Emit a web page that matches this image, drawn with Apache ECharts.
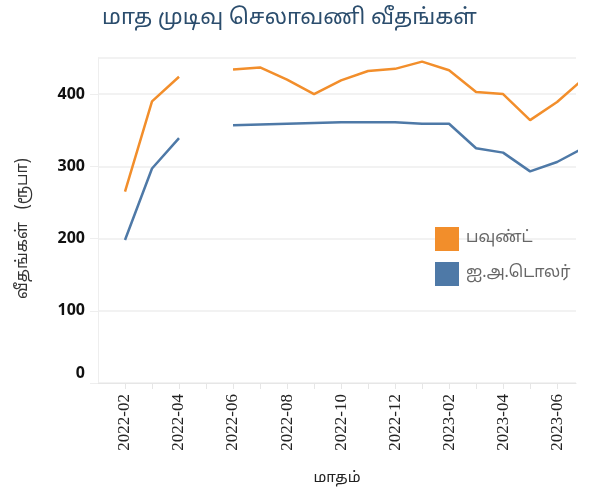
<!DOCTYPE html>
<html>
<head>
<meta charset="utf-8">
<script src="https://cdn.jsdelivr.net/npm/echarts@6/dist/echarts.min.js"></script>
<style>
html,body{margin:0;padding:0;background:#fff;}
#chart{width:590px;height:491px;}
</style>
</head>
<body>
<div id="chart"></div>
<script>
// Month labels (index 0 = 2022-01)
const monthLabels = ['2022-01','2022-02','2022-03','2022-04','2022-05','2022-06','2022-07','2022-08','2022-09','2022-10','2022-11','2022-12','2023-01','2023-02','2023-03','2023-04','2023-05','2023-06','2023-07'];
// Data months (2022-02 .. 2023-07), null = missing (2022-05)
const dataMonths = ['2022-02','2022-03','2022-04','2022-05','2022-06','2022-07','2022-08','2022-09','2022-10','2022-11','2022-12','2023-01','2023-02','2023-03','2023-04','2023-05','2023-06','2023-07'];
const pound = [265, 390, 424, null, 434, 437, 420, 400, 419, 432, 435, 445, 433, 403, 400, 364, 389, 422];
const usd   = [198, 297, 339, null, 357, 358, 359, 360, 361, 361, 361, 359, 359, 325, 319, 293, 306, 326];
const seriesNames = ['பவுண்ட்', 'ஐ.அ.டொலர்'];
const yTicks = [0, 100, 200, 300, 400];

function toPairs(vals) {
  return dataMonths.map((m, i) => [monthLabels.indexOf(m), vals[i] === null ? '-' : vals[i]]);
}

const chart = echarts.init(document.getElementById('chart'), null, {renderer: 'canvas'});
const tamilFont = '"Noto Sans Tamil", "Noto Sans", "DejaVu Sans", sans-serif';
chart.setOption({
  animation: false,
  backgroundColor: '#fff',
  title: {
    text: 'மாத முடிவு செலாவணி வீதங்கள்',
    left: 97, top: 4,
    textStyle: {fontSize: 22, fontWeight: 'normal', color: '#2b4d6d', fontFamily: tamilFont}
  },
  legend: {
    orient: 'vertical',
    left: 435, top: 227, padding: 0,
    itemWidth: 24, itemHeight: 24, itemGap: 11,
    icon: 'rect',
    textStyle: {fontSize: 16, color: '#666666', fontFamily: tamilFont, padding: [0,0,0,2]},
    data: seriesNames
  },
  grid: {left: 98, right: 14, top: 58, bottom: 108, containLabel: false},
  xAxis: {
    type: 'value',
    min: 0, max: 17.7, interval: 1,
    name: 'மாதம்', nameLocation: 'middle', nameGap: 88,
    nameTextStyle: {fontSize: 15, color: '#222', fontFamily: tamilFont},
    axisLine: {show: true, lineStyle: {color: '#e6e6e6', width: 1}},
    axisTick: {show: true, length: 6, lineStyle: {color: '#e6e6e6'}},
    splitLine: {show: false},
    axisLabel: {
      rotate: 90, fontSize: 17, color: '#222', margin: 11,
      fontFamily: '"Liberation Serif", "Times New Roman", serif',
      showMaxLabel: false, showMinLabel: false,
      formatter: function (v) {
        if (Math.abs(v - Math.round(v)) > 1e-6) return '';
        const i = Math.round(v);
        return (i % 2 === 1 && monthLabels[i]) ? monthLabels[i] : '';
      }
    }
  },
  yAxis: {
    type: 'value',
    min: 0, max: 450, interval: 100,
    name: 'வீதங்கள்   (ரூபா)', nameLocation: 'middle', nameGap: 66,
    nameTextStyle: {fontSize: 16, color: '#333', fontFamily: tamilFont, padding: [0,16,0,0]},
    axisLine: {show: true, lineStyle: {color: '#eeeeee'}},
    axisTick: {show: true, length: 8, lineStyle: {color: '#eeeeee'}},
    splitLine: {show: true, lineStyle: {color: '#eeeeee', width: 1.5}},
    axisLabel: {
      fontSize: 16, fontWeight: 'bold', color: '#111', margin: 13,
      fontFamily: '"Open Sans", "Noto Sans", sans-serif',
      showMaxLabel: false,
      formatter: function (v) {
        if (yTicks.indexOf(v) < 0) return '';
        return v === 0 ? '{z|0}' : String(v);
      },
      rich: {z: {fontSize: 16, fontWeight: 'bold', color: '#111', fontFamily: '"Open Sans", "Noto Sans", sans-serif', padding: [0,0,20,0]}}
    }
  },
  series: [
    {
      name: seriesNames[0], type: 'line', data: toPairs(pound),
      showSymbol: false, symbol: 'none', connectNulls: false, clip: true,
      lineStyle: {color: '#f28e2b', width: 2.5}, itemStyle: {color: '#f28e2b'}
    },
    {
      name: seriesNames[1], type: 'line', data: toPairs(usd),
      showSymbol: false, symbol: 'none', connectNulls: false, clip: true,
      lineStyle: {color: '#4e79a7', width: 2.5}, itemStyle: {color: '#4e79a7'}
    }
  ]
});
</script>
</body>
</html>
